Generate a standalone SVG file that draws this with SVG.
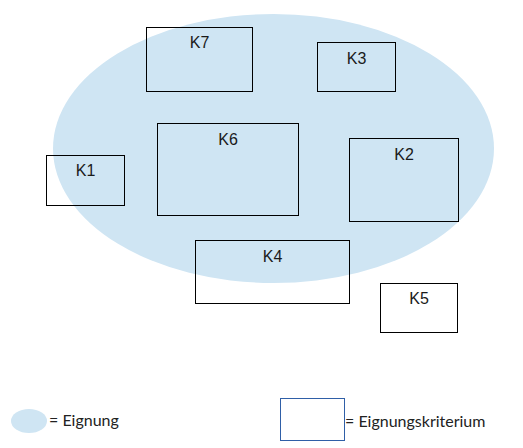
<svg xmlns="http://www.w3.org/2000/svg" width="523" height="448" viewBox="0 0 523 448">
<style>
.bg{fill:#cfe5f3}
.k{fill:none;stroke:#000;stroke-width:1}
.kl{font-family:"Liberation Sans",Arial,sans-serif;font-size:16px;fill:#1a1a1a;text-anchor:middle}
.lg{font-family:Lato,"Open Sans",sans-serif;font-size:16px;fill:#222}
</style>
<rect width="523" height="448" fill="#fff"/>
<g id="eignung"><ellipse class="bg" cx="273.5" cy="148.5" rx="220.5" ry="134.5"/></g>
<g id="K7"><rect class="k" x="146.5" y="27.5" width="106" height="64"/><text class="kl" x="199.5" y="48">K7</text></g>
<g id="K3"><rect class="k" x="317.5" y="42.5" width="78" height="49"/><text class="kl" x="356.5" y="63.5">K3</text></g>
<g id="K6"><rect class="k" x="157.5" y="123.5" width="141" height="92"/><text class="kl" x="228" y="145">K6</text></g>
<g id="K1"><rect class="k" x="46.5" y="155.5" width="78" height="50"/><text class="kl" x="85.5" y="176">K1</text></g>
<g id="K2"><rect class="k" x="349.5" y="138.5" width="109" height="83"/><text class="kl" x="404" y="160">K2</text></g>
<g id="K4"><rect class="k" x="195.5" y="240.5" width="154" height="63"/><text class="kl" x="272.5" y="262">K4</text></g>
<g id="K5"><rect class="k" x="380.5" y="283.5" width="77" height="49"/><text class="kl" x="419" y="304">K5</text></g>
<g id="connectors"></g>
<g id="legend-eignung"><ellipse class="bg" cx="29" cy="421" rx="18" ry="12"/><text class="lg" x="49" y="426">= Eignung</text></g>
<g id="legend-kriterium"><rect x="280.5" y="398.5" width="64" height="42" fill="#fff" stroke="#2f5fa7" stroke-width="1"/><text class="lg" x="345" y="426.5">= Eignungskriterium</text></g>
</svg>
